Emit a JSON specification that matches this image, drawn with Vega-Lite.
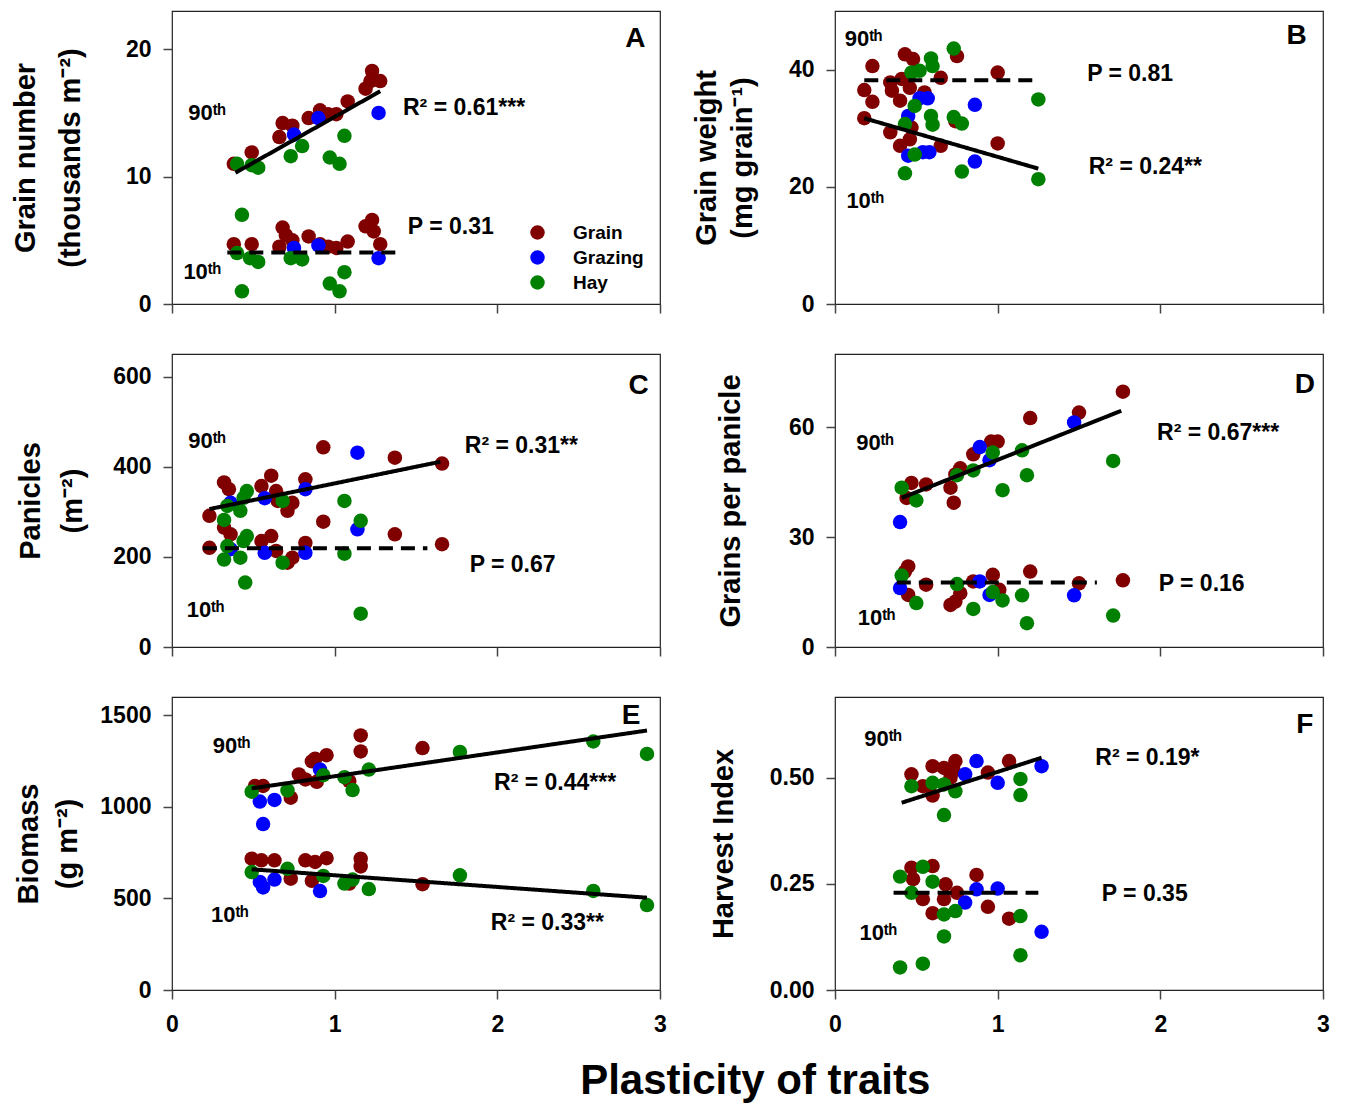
{
  "$schema": "https://vega.github.io/schema/vega-lite/v6.json",
  "padding": {"left": 10, "top": 10, "right": 10, "bottom": 10},
  "config": {
    "font": "Liberation Sans",
    "view": {"stroke": "#222", "strokeWidth": 1.2},
    "axis": {"domain": false, "grid": false, "ticks": true, "tickSize": 9, "tickColor": "#444", "tickWidth": 1.5,
      "labelFont": "Liberation Sans", "labelFontSize": 23, "labelFontWeight": "bold", "labelColor": "black", "labelPadding": 12,
      "labelFlush": false, "labelOverlap": false,
      "titleFont": "Liberation Sans", "titleFontSize": 29, "titleFontWeight": "bold", "titleColor": "black"},
    "axisY": {"minExtent": 40, "maxExtent": 40},
    "axisX": {"labelPadding": 14, "format": "d"}
  },
  "title": {"text": "Plasticity of traits", "orient": "bottom", "anchor": "middle", "fontSize": 42, "fontWeight": "bold", "font": "Liberation Sans", "offset": 24, "dx": 85, "color": "black"},
  "datasets": {
    "pts": [
      {"p":"A","s":"Grain","x":0.38,"y":11.0},{"p":"A","s":"Grain","x":0.49,"y":11.9},{"p":"A","s":"Grain","x":0.66,"y":13.1},{"p":"A","s":"Grain","x":0.68,"y":14.2},{"p":"A","s":"Grain","x":0.74,"y":14.0},{"p":"A","s":"Grain","x":0.84,"y":14.6},{"p":"A","s":"Grain","x":0.91,"y":15.2},{"p":"A","s":"Grain","x":0.96,"y":14.9},{"p":"A","s":"Grain","x":1.01,"y":14.9},{"p":"A","s":"Grain","x":1.08,"y":15.9},{"p":"A","s":"Grain","x":1.19,"y":16.9},{"p":"A","s":"Grain","x":1.23,"y":18.3},{"p":"A","s":"Grain","x":1.28,"y":17.5},{"p":"A","s":"Grain","x":1.22,"y":17.5},
      {"p":"A","s":"Grain","x":0.38,"y":4.7},{"p":"A","s":"Grain","x":0.49,"y":4.7},{"p":"A","s":"Grain","x":0.68,"y":6.0},{"p":"A","s":"Grain","x":0.66,"y":4.5},{"p":"A","s":"Grain","x":0.70,"y":5.4},{"p":"A","s":"Grain","x":0.74,"y":5.0},{"p":"A","s":"Grain","x":0.84,"y":5.3},{"p":"A","s":"Grain","x":0.91,"y":4.7},{"p":"A","s":"Grain","x":0.96,"y":4.5},{"p":"A","s":"Grain","x":1.01,"y":4.4},{"p":"A","s":"Grain","x":1.08,"y":4.9},{"p":"A","s":"Grain","x":1.19,"y":6.1},{"p":"A","s":"Grain","x":1.23,"y":6.6},{"p":"A","s":"Grain","x":1.24,"y":5.7},{"p":"A","s":"Grain","x":1.28,"y":4.7},
      {"p":"A","s":"Grazing","x":0.75,"y":13.3},{"p":"A","s":"Grazing","x":0.90,"y":14.6},{"p":"A","s":"Grazing","x":1.27,"y":15.0},{"p":"A","s":"Grazing","x":0.75,"y":4.4},{"p":"A","s":"Grazing","x":0.90,"y":4.6},{"p":"A","s":"Grazing","x":1.27,"y":3.6},
      {"p":"A","s":"Hay","x":0.40,"y":11.0},{"p":"A","s":"Hay","x":0.49,"y":10.9},{"p":"A","s":"Hay","x":0.53,"y":10.7},{"p":"A","s":"Hay","x":0.73,"y":11.6},{"p":"A","s":"Hay","x":0.80,"y":12.4},{"p":"A","s":"Hay","x":0.97,"y":11.5},{"p":"A","s":"Hay","x":1.03,"y":11.0},{"p":"A","s":"Hay","x":1.06,"y":13.2},{"p":"A","s":"Hay","x":0.43,"y":7.0},{"p":"A","s":"Hay","x":0.40,"y":4.0},{"p":"A","s":"Hay","x":0.48,"y":3.6},{"p":"A","s":"Hay","x":0.53,"y":3.3},{"p":"A","s":"Hay","x":0.73,"y":3.6},{"p":"A","s":"Hay","x":0.80,"y":3.5},{"p":"A","s":"Hay","x":0.43,"y":1.0},{"p":"A","s":"Hay","x":0.97,"y":1.6},{"p":"A","s":"Hay","x":1.03,"y":1.0},{"p":"A","s":"Hay","x":1.06,"y":2.5},

      {"p":"B","s":"Grain","x":0.23,"y":40.6},{"p":"B","s":"Grain","x":0.43,"y":42.6},{"p":"B","s":"Grain","x":0.48,"y":41.8},{"p":"B","s":"Grain","x":0.75,"y":42.3},{"p":"B","s":"Grain","x":1.00,"y":39.5},{"p":"B","s":"Grain","x":0.65,"y":38.6},{"p":"B","s":"Grain","x":0.34,"y":37.8},{"p":"B","s":"Grain","x":0.41,"y":38.4},{"p":"B","s":"Grain","x":0.18,"y":36.5},{"p":"B","s":"Grain","x":0.23,"y":34.5},{"p":"B","s":"Grain","x":0.35,"y":36.4},{"p":"B","s":"Grain","x":0.40,"y":34.7},{"p":"B","s":"Grain","x":0.46,"y":36.9},{"p":"B","s":"Grain","x":0.55,"y":36.1},{"p":"B","s":"Grain","x":0.18,"y":31.7},{"p":"B","s":"Grain","x":0.34,"y":29.3},{"p":"B","s":"Grain","x":0.40,"y":27.0},{"p":"B","s":"Grain","x":0.46,"y":28.1},{"p":"B","s":"Grain","x":0.65,"y":27.0},{"p":"B","s":"Grain","x":1.00,"y":27.4},{"p":"B","s":"Grain","x":0.74,"y":31.2},{"p":"B","s":"Grain","x":0.47,"y":30.1},
      {"p":"B","s":"Grazing","x":0.57,"y":35.1},{"p":"B","s":"Grazing","x":0.52,"y":35.1},{"p":"B","s":"Grazing","x":0.86,"y":34.0},{"p":"B","s":"Grazing","x":0.45,"y":32.1},{"p":"B","s":"Grazing","x":0.54,"y":25.9},{"p":"B","s":"Grazing","x":0.58,"y":25.9},{"p":"B","s":"Grazing","x":0.45,"y":25.3},{"p":"B","s":"Grazing","x":0.86,"y":24.3},
      {"p":"B","s":"Hay","x":0.73,"y":43.6},{"p":"B","s":"Hay","x":0.59,"y":41.9},{"p":"B","s":"Hay","x":0.60,"y":40.6},{"p":"B","s":"Hay","x":0.47,"y":39.5},{"p":"B","s":"Hay","x":0.52,"y":39.8},{"p":"B","s":"Hay","x":1.25,"y":34.9},{"p":"B","s":"Hay","x":0.49,"y":33.8},{"p":"B","s":"Hay","x":0.59,"y":32.1},{"p":"B","s":"Hay","x":0.73,"y":31.9},{"p":"B","s":"Hay","x":0.78,"y":30.8},{"p":"B","s":"Hay","x":0.43,"y":30.7},{"p":"B","s":"Hay","x":0.60,"y":30.6},{"p":"B","s":"Hay","x":0.49,"y":25.5},{"p":"B","s":"Hay","x":0.43,"y":22.3},{"p":"B","s":"Hay","x":0.78,"y":22.6},{"p":"B","s":"Hay","x":1.25,"y":21.3},

      {"p":"C","s":"Grain","x":0.93,"y":443},{"p":"C","s":"Grain","x":1.37,"y":420},{"p":"C","s":"Grain","x":1.66,"y":407},{"p":"C","s":"Grain","x":0.23,"y":291},{"p":"C","s":"Grain","x":0.32,"y":365},{"p":"C","s":"Grain","x":0.35,"y":350},{"p":"C","s":"Grain","x":0.55,"y":357},{"p":"C","s":"Grain","x":0.61,"y":380},{"p":"C","s":"Grain","x":0.64,"y":346},{"p":"C","s":"Grain","x":0.82,"y":372},{"p":"C","s":"Grain","x":0.74,"y":320},{"p":"C","s":"Grain","x":0.71,"y":302},{"p":"C","s":"Grain","x":0.93,"y":278},{"p":"C","s":"Grain","x":0.65,"y":324},{"p":"C","s":"Grain","x":0.32,"y":265},{"p":"C","s":"Grain","x":0.36,"y":250},{"p":"C","s":"Grain","x":0.23,"y":220},{"p":"C","s":"Grain","x":0.55,"y":235},{"p":"C","s":"Grain","x":0.61,"y":246},{"p":"C","s":"Grain","x":0.82,"y":231},{"p":"C","s":"Grain","x":0.74,"y":198},{"p":"C","s":"Grain","x":0.71,"y":187},{"p":"C","s":"Grain","x":1.37,"y":250},{"p":"C","s":"Grain","x":1.66,"y":228},{"p":"C","s":"Grain","x":0.64,"y":213},
      {"p":"C","s":"Grazing","x":1.14,"y":431},{"p":"C","s":"Grazing","x":0.82,"y":350},{"p":"C","s":"Grazing","x":0.57,"y":330},{"p":"C","s":"Grazing","x":0.36,"y":320},{"p":"C","s":"Grazing","x":1.14,"y":261},{"p":"C","s":"Grazing","x":0.57,"y":209},{"p":"C","s":"Grazing","x":0.82,"y":209},{"p":"C","s":"Grazing","x":0.36,"y":217},
      {"p":"C","s":"Hay","x":0.46,"y":346},{"p":"C","s":"Hay","x":0.44,"y":331},{"p":"C","s":"Hay","x":0.34,"y":313},{"p":"C","s":"Hay","x":0.42,"y":302},{"p":"C","s":"Hay","x":0.32,"y":282},{"p":"C","s":"Hay","x":0.68,"y":324},{"p":"C","s":"Hay","x":1.06,"y":324},{"p":"C","s":"Hay","x":1.16,"y":280},{"p":"C","s":"Hay","x":0.46,"y":246},{"p":"C","s":"Hay","x":0.44,"y":235},{"p":"C","s":"Hay","x":0.34,"y":224},{"p":"C","s":"Hay","x":0.42,"y":198},{"p":"C","s":"Hay","x":0.32,"y":194},{"p":"C","s":"Hay","x":0.68,"y":187},{"p":"C","s":"Hay","x":1.06,"y":207},{"p":"C","s":"Hay","x":0.45,"y":143},{"p":"C","s":"Hay","x":1.16,"y":74},

      {"p":"D","s":"Grain","x":1.77,"y":69.7},{"p":"D","s":"Grain","x":1.50,"y":64.0},{"p":"D","s":"Grain","x":1.20,"y":62.5},{"p":"D","s":"Grain","x":1.00,"y":56.1},{"p":"D","s":"Grain","x":0.96,"y":56.1},{"p":"D","s":"Grain","x":0.85,"y":52.6},{"p":"D","s":"Grain","x":0.77,"y":48.8},{"p":"D","s":"Grain","x":0.74,"y":47.1},{"p":"D","s":"Grain","x":0.71,"y":43.5},{"p":"D","s":"Grain","x":0.73,"y":39.4},{"p":"D","s":"Grain","x":0.56,"y":44.4},{"p":"D","s":"Grain","x":0.47,"y":44.8},{"p":"D","s":"Grain","x":0.44,"y":40.7},{"p":"D","s":"Grain","x":0.45,"y":22.0},{"p":"D","s":"Grain","x":0.43,"y":20.6},{"p":"D","s":"Grain","x":1.20,"y":20.6},{"p":"D","s":"Grain","x":1.77,"y":18.2},{"p":"D","s":"Grain","x":0.97,"y":19.7},{"p":"D","s":"Grain","x":0.85,"y":17.9},{"p":"D","s":"Grain","x":0.56,"y":17.0},{"p":"D","s":"Grain","x":0.45,"y":14.2},{"p":"D","s":"Grain","x":0.77,"y":14.7},{"p":"D","s":"Grain","x":0.74,"y":12.4},{"p":"D","s":"Grain","x":0.71,"y":11.5},{"p":"D","s":"Grain","x":1.50,"y":17.4},{"p":"D","s":"Grain","x":1.01,"y":15.6},
      {"p":"D","s":"Grazing","x":1.47,"y":61.3},{"p":"D","s":"Grazing","x":0.89,"y":54.6},{"p":"D","s":"Grazing","x":0.95,"y":51.0},{"p":"D","s":"Grazing","x":0.40,"y":34.1},{"p":"D","s":"Grazing","x":0.40,"y":16.1},{"p":"D","s":"Grazing","x":0.89,"y":17.9},{"p":"D","s":"Grazing","x":0.95,"y":14.2},{"p":"D","s":"Grazing","x":1.47,"y":14.1},
      {"p":"D","s":"Hay","x":1.15,"y":53.7},{"p":"D","s":"Hay","x":0.97,"y":53.1},{"p":"D","s":"Hay","x":0.85,"y":48.2},{"p":"D","s":"Hay","x":0.75,"y":46.9},{"p":"D","s":"Hay","x":0.41,"y":43.5},{"p":"D","s":"Hay","x":0.50,"y":40.0},{"p":"D","s":"Hay","x":1.03,"y":42.8},{"p":"D","s":"Hay","x":1.18,"y":46.9},{"p":"D","s":"Hay","x":1.71,"y":50.8},{"p":"D","s":"Hay","x":0.41,"y":19.5},{"p":"D","s":"Hay","x":0.75,"y":17.2},{"p":"D","s":"Hay","x":0.97,"y":15.0},{"p":"D","s":"Hay","x":1.03,"y":12.7},{"p":"D","s":"Hay","x":1.15,"y":14.1},{"p":"D","s":"Hay","x":0.50,"y":12.0},{"p":"D","s":"Hay","x":0.85,"y":10.4},{"p":"D","s":"Hay","x":1.18,"y":6.5},{"p":"D","s":"Hay","x":1.71,"y":8.6},

      {"p":"E","s":"Grain","x":1.16,"y":1390},{"p":"E","s":"Grain","x":1.16,"y":1303},{"p":"E","s":"Grain","x":1.54,"y":1321},{"p":"E","s":"Grain","x":0.95,"y":1282},{"p":"E","s":"Grain","x":0.88,"y":1263},{"p":"E","s":"Grain","x":0.86,"y":1249},{"p":"E","s":"Grain","x":0.78,"y":1177},{"p":"E","s":"Grain","x":0.82,"y":1150},{"p":"E","s":"Grain","x":0.89,"y":1137},{"p":"E","s":"Grain","x":1.09,"y":1141},{"p":"E","s":"Grain","x":0.51,"y":1114},{"p":"E","s":"Grain","x":0.56,"y":1114},{"p":"E","s":"Grain","x":0.73,"y":1050},{"p":"E","s":"Grain","x":0.49,"y":717},{"p":"E","s":"Grain","x":0.55,"y":708},{"p":"E","s":"Grain","x":0.63,"y":708},{"p":"E","s":"Grain","x":0.82,"y":708},{"p":"E","s":"Grain","x":0.88,"y":699},{"p":"E","s":"Grain","x":0.95,"y":720},{"p":"E","s":"Grain","x":1.16,"y":717},{"p":"E","s":"Grain","x":1.16,"y":675},{"p":"E","s":"Grain","x":0.73,"y":608},{"p":"E","s":"Grain","x":0.86,"y":596},{"p":"E","s":"Grain","x":1.09,"y":581},{"p":"E","s":"Grain","x":1.54,"y":578},
      {"p":"E","s":"Grazing","x":0.91,"y":1204},{"p":"E","s":"Grazing","x":0.54,"y":1029},{"p":"E","s":"Grazing","x":0.63,"y":1038},{"p":"E","s":"Grazing","x":0.56,"y":906},{"p":"E","s":"Grazing","x":0.54,"y":590},{"p":"E","s":"Grazing","x":0.56,"y":560},{"p":"E","s":"Grazing","x":0.63,"y":603},{"p":"E","s":"Grazing","x":0.91,"y":540},
      {"p":"E","s":"Hay","x":0.49,"y":1083},{"p":"E","s":"Hay","x":0.71,"y":1090},{"p":"E","s":"Hay","x":0.93,"y":1173},{"p":"E","s":"Hay","x":1.06,"y":1162},{"p":"E","s":"Hay","x":1.11,"y":1092},{"p":"E","s":"Hay","x":1.21,"y":1204},{"p":"E","s":"Hay","x":1.77,"y":1300},{"p":"E","s":"Hay","x":2.59,"y":1357},{"p":"E","s":"Hay","x":2.92,"y":1289},{"p":"E","s":"Hay","x":0.49,"y":644},{"p":"E","s":"Hay","x":0.71,"y":662},{"p":"E","s":"Hay","x":0.93,"y":623},{"p":"E","s":"Hay","x":1.06,"y":581},{"p":"E","s":"Hay","x":1.11,"y":603},{"p":"E","s":"Hay","x":1.21,"y":551},{"p":"E","s":"Hay","x":1.77,"y":626},{"p":"E","s":"Hay","x":2.59,"y":541},{"p":"E","s":"Hay","x":2.92,"y":464},

      {"p":"F","s":"Grain","x":0.47,"y":0.508},{"p":"F","s":"Grain","x":0.60,"y":0.527},{"p":"F","s":"Grain","x":0.67,"y":0.523},{"p":"F","s":"Grain","x":0.74,"y":0.539},{"p":"F","s":"Grain","x":0.73,"y":0.516},{"p":"F","s":"Grain","x":0.94,"y":0.512},{"p":"F","s":"Grain","x":1.07,"y":0.539},{"p":"F","s":"Grain","x":0.54,"y":0.480},{"p":"F","s":"Grain","x":0.60,"y":0.458},{"p":"F","s":"Grain","x":0.71,"y":0.500},{"p":"F","s":"Grain","x":0.47,"y":0.288},{"p":"F","s":"Grain","x":0.60,"y":0.292},{"p":"F","s":"Grain","x":0.48,"y":0.261},{"p":"F","s":"Grain","x":0.68,"y":0.249},{"p":"F","s":"Grain","x":0.75,"y":0.229},{"p":"F","s":"Grain","x":0.54,"y":0.214},{"p":"F","s":"Grain","x":0.67,"y":0.214},{"p":"F","s":"Grain","x":0.87,"y":0.271},{"p":"F","s":"Grain","x":0.94,"y":0.196},{"p":"F","s":"Grain","x":0.60,"y":0.181},{"p":"F","s":"Grain","x":1.07,"y":0.168},
      {"p":"F","s":"Grazing","x":0.87,"y":0.539},{"p":"F","s":"Grazing","x":0.80,"y":0.508},{"p":"F","s":"Grazing","x":1.00,"y":0.488},{"p":"F","s":"Grazing","x":1.27,"y":0.527},{"p":"F","s":"Grazing","x":0.87,"y":0.237},{"p":"F","s":"Grazing","x":1.00,"y":0.239},{"p":"F","s":"Grazing","x":0.80,"y":0.206},{"p":"F","s":"Grazing","x":1.27,"y":0.137},
      {"p":"F","s":"Hay","x":0.47,"y":0.480},{"p":"F","s":"Hay","x":0.60,"y":0.488},{"p":"F","s":"Hay","x":0.67,"y":0.484},{"p":"F","s":"Hay","x":0.74,"y":0.468},{"p":"F","s":"Hay","x":0.67,"y":0.412},{"p":"F","s":"Hay","x":1.14,"y":0.497},{"p":"F","s":"Hay","x":1.14,"y":0.459},{"p":"F","s":"Hay","x":0.40,"y":0.267},{"p":"F","s":"Hay","x":0.54,"y":0.290},{"p":"F","s":"Hay","x":0.60,"y":0.255},{"p":"F","s":"Hay","x":0.47,"y":0.229},{"p":"F","s":"Hay","x":0.67,"y":0.178},{"p":"F","s":"Hay","x":0.74,"y":0.186},{"p":"F","s":"Hay","x":1.14,"y":0.174},{"p":"F","s":"Hay","x":0.67,"y":0.126},{"p":"F","s":"Hay","x":1.14,"y":0.082},{"p":"F","s":"Hay","x":0.40,"y":0.053},{"p":"F","s":"Hay","x":0.54,"y":0.062}
    ],
    "lns": [
      {"p":"A","g":"90","d":"solid","x":0.39,"y":10.3},{"p":"A","g":"90","d":"solid","x":1.28,"y":16.7},
      {"p":"A","g":"10","d":"dashed","x":0.34,"y":4.05},{"p":"A","g":"10","d":"dashed","x":1.41,"y":4.05},
      {"p":"B","g":"90","d":"dashed","x":0.18,"y":38.2},{"p":"B","g":"90","d":"dashed","x":1.26,"y":38.2},
      {"p":"B","g":"10","d":"solid","x":0.18,"y":31.7},{"p":"B","g":"10","d":"solid","x":1.25,"y":23.1},
      {"p":"C","g":"90","d":"solid","x":0.23,"y":306},{"p":"C","g":"90","d":"solid","x":1.65,"y":411},
      {"p":"C","g":"10","d":"dashed","x":0.19,"y":219},{"p":"C","g":"10","d":"dashed","x":1.57,"y":219},
      {"p":"D","g":"90","d":"solid","x":0.41,"y":40.7},{"p":"D","g":"90","d":"solid","x":1.76,"y":64.5},
      {"p":"D","g":"10","d":"dashed","x":0.38,"y":17.6},{"p":"D","g":"10","d":"dashed","x":1.61,"y":17.6},
      {"p":"E","g":"90","d":"solid","x":0.49,"y":1101},{"p":"E","g":"90","d":"solid","x":2.92,"y":1417},
      {"p":"E","g":"10","d":"solid","x":0.49,"y":659},{"p":"E","g":"10","d":"solid","x":2.92,"y":504},
      {"p":"F","g":"90","d":"solid","x":0.41,"y":0.441},{"p":"F","g":"90","d":"solid","x":1.27,"y":0.547},
      {"p":"F","g":"10","d":"dashed","x":0.36,"y":0.229},{"p":"F","g":"10","d":"dashed","x":1.25,"y":0.229}
    ],
    "txt": [
      {"p":"A","k":"pct","t":"90ᵗʰ","x":0.10,"y":15.0},{"p":"A","k":"pct","t":"10ᵗʰ","x":0.07,"y":2.5},{"p":"A","k":"stat","t":"R² = 0.61***","x":1.42,"y":15.4},{"p":"A","k":"stat","t":"P = 0.31","x":1.45,"y":6.06},{"p":"A","k":"let","t":"A","x":2.91,"y":20.8},
      {"p":"B","k":"pct","t":"90ᵗʰ","x":0.06,"y":45.2},{"p":"B","k":"pct","t":"10ᵗʰ","x":0.07,"y":17.6},{"p":"B","k":"stat","t":"P = 0.81","x":1.55,"y":39.2},{"p":"B","k":"stat","t":"R² = 0.24**","x":1.56,"y":23.3},{"p":"B","k":"let","t":"B","x":2.90,"y":45.7},
      {"p":"C","k":"pct","t":"90ᵗʰ","x":0.10,"y":456},{"p":"C","k":"pct","t":"10ᵗʰ","x":0.09,"y":83},{"p":"C","k":"stat","t":"R² = 0.31**","x":1.80,"y":446},{"p":"C","k":"stat","t":"P = 0.67","x":1.83,"y":183},{"p":"C","k":"let","t":"C","x":2.93,"y":580},
      {"p":"D","k":"pct","t":"90ᵗʰ","x":0.13,"y":55.8},{"p":"D","k":"pct","t":"10ᵗʰ","x":0.14,"y":7.9},{"p":"D","k":"stat","t":"R² = 0.67***","x":1.98,"y":58.5},{"p":"D","k":"stat","t":"P = 0.16","x":1.99,"y":17.2},{"p":"D","k":"let","t":"D","x":2.95,"y":71.6},
      {"p":"E","k":"pct","t":"90ᵗʰ","x":0.25,"y":1330},{"p":"E","k":"pct","t":"10ᵗʰ","x":0.24,"y":410},{"p":"E","k":"stat","t":"R² = 0.44***","x":1.98,"y":1132},{"p":"E","k":"stat","t":"R² = 0.33**","x":1.96,"y":365},{"p":"E","k":"let","t":"E","x":2.88,"y":1498},
      {"p":"F","k":"pct","t":"90ᵗʰ","x":0.18,"y":0.59},{"p":"F","k":"pct","t":"10ᵗʰ","x":0.15,"y":0.135},{"p":"F","k":"stat","t":"R² = 0.19*","x":1.60,"y":0.547},{"p":"F","k":"stat","t":"P = 0.35","x":1.64,"y":0.225},{"p":"F","k":"let","t":"F","x":2.94,"y":0.625}
    ]
  },
  "columns": 2,
  "spacing": {"row": 50, "column": 175},
  "bounds": "flush",
  "resolve": {"scale": {"x": "independent", "y": "independent", "color": "independent", "strokeDash": "independent"}, "legend": {"color": "independent"}},
  "concat": [
    {
      "width": 488, "height": 293,
      "layer": [
        {"data": {"name": "pts"}, "transform": [{"filter": "datum.p==='A'"}],
         "mark": {"type": "circle", "size": 210, "opacity": 1},
         "encoding": {
           "x": {"field": "x", "type": "quantitative", "scale": {"domain": [0, 3], "nice": false}, "axis": {"values": [0, 1, 2, 3], "labels": false, "title": null}},
           "y": {"field": "y", "type": "quantitative", "scale": {"domain": [0, 23], "nice": false}, "axis": {"values": [0, 10, 20], "title": ["Grain number", "(thousands m⁻²)"], "titleLineHeight": 45, "titlePadding": 47}},
           "color": {"field": "s", "type": "nominal", "scale": {"domain": ["Grain", "Grazing", "Hay"], "range": ["#800000", "#0000ff", "#008000"]},
             "legend": {"orient": "none", "legendX": 356, "legendY": 212, "title": null, "padding": 0, "labelFont": "Liberation Sans", "labelFontSize": 19, "labelFontWeight": "bold", "labelColor": "black", "symbolSize": 210, "symbolType": "circle", "symbolStrokeWidth": 0, "rowPadding": 5, "labelOffset": 26}}
         }},
        {"data": {"name": "lns"}, "transform": [{"filter": "datum.p==='A'"}],
         "mark": {"type": "line", "color": "black", "strokeWidth": 4},
         "encoding": {"x": {"field": "x", "type": "quantitative"}, "y": {"field": "y", "type": "quantitative"}, "detail": {"field": "g"},
           "strokeDash": {"field": "d", "type": "nominal", "scale": {"domain": ["solid", "dashed"], "range": [[1, 0], [14, 8]]}, "legend": null}}},
        {"data": {"name": "txt"}, "transform": [{"filter": "datum.p==='A' && datum.k==='pct'"}],
         "mark": {"type": "text", "align": "left", "baseline": "middle", "fontSize": 22, "fontWeight": "bold", "color": "black"},
         "encoding": {"x": {"field": "x", "type": "quantitative"}, "y": {"field": "y", "type": "quantitative"}, "text": {"field": "t"}}},
        {"data": {"name": "txt"}, "transform": [{"filter": "datum.p==='A' && datum.k==='stat'"}],
         "mark": {"type": "text", "align": "left", "baseline": "middle", "fontSize": 23, "fontWeight": "bold", "color": "black"},
         "encoding": {"x": {"field": "x", "type": "quantitative"}, "y": {"field": "y", "type": "quantitative"}, "text": {"field": "t"}}},
        {"data": {"name": "txt"}, "transform": [{"filter": "datum.p==='A' && datum.k==='let'"}],
         "mark": {"type": "text", "align": "right", "baseline": "middle", "fontSize": 28, "fontWeight": "bold", "color": "black"},
         "encoding": {"x": {"field": "x", "type": "quantitative"}, "y": {"field": "y", "type": "quantitative"}, "text": {"field": "t"}}}
      ]
    },
    {
      "width": 488, "height": 293,
      "layer": [
        {"data": {"name": "pts"}, "transform": [{"filter": "datum.p==='B'"}],
         "mark": {"type": "circle", "size": 210, "opacity": 1},
         "encoding": {
           "x": {"field": "x", "type": "quantitative", "scale": {"domain": [0, 3], "nice": false}, "axis": {"values": [0, 1, 2, 3], "labels": false, "title": null}},
           "y": {"field": "y", "type": "quantitative", "scale": {"domain": [0, 50], "nice": false}, "axis": {"values": [0, 20, 40], "title": ["Grain weight", "(mg grain⁻¹)"], "titleLineHeight": 36, "titlePadding": 38}},
           "color": {"field": "s", "type": "nominal", "scale": {"domain": ["Grain", "Grazing", "Hay"], "range": ["#800000", "#0000ff", "#008000"]}, "legend": null}
         }},
        {"data": {"name": "lns"}, "transform": [{"filter": "datum.p==='B'"}],
         "mark": {"type": "line", "color": "black", "strokeWidth": 4},
         "encoding": {"x": {"field": "x", "type": "quantitative"}, "y": {"field": "y", "type": "quantitative"}, "detail": {"field": "g"},
           "strokeDash": {"field": "d", "type": "nominal", "scale": {"domain": ["solid", "dashed"], "range": [[1, 0], [14, 8]]}, "legend": null}}},
        {"data": {"name": "txt"}, "transform": [{"filter": "datum.p==='B' && datum.k==='pct'"}],
         "mark": {"type": "text", "align": "left", "baseline": "middle", "fontSize": 22, "fontWeight": "bold", "color": "black"},
         "encoding": {"x": {"field": "x", "type": "quantitative"}, "y": {"field": "y", "type": "quantitative"}, "text": {"field": "t"}}},
        {"data": {"name": "txt"}, "transform": [{"filter": "datum.p==='B' && datum.k==='stat'"}],
         "mark": {"type": "text", "align": "left", "baseline": "middle", "fontSize": 23, "fontWeight": "bold", "color": "black"},
         "encoding": {"x": {"field": "x", "type": "quantitative"}, "y": {"field": "y", "type": "quantitative"}, "text": {"field": "t"}}},
        {"data": {"name": "txt"}, "transform": [{"filter": "datum.p==='B' && datum.k==='let'"}],
         "mark": {"type": "text", "align": "right", "baseline": "middle", "fontSize": 28, "fontWeight": "bold", "color": "black"},
         "encoding": {"x": {"field": "x", "type": "quantitative"}, "y": {"field": "y", "type": "quantitative"}, "text": {"field": "t"}}}
      ]
    },
    {
      "width": 488, "height": 293,
      "layer": [
        {"data": {"name": "pts"}, "transform": [{"filter": "datum.p==='C'"}],
         "mark": {"type": "circle", "size": 210, "opacity": 1},
         "encoding": {
           "x": {"field": "x", "type": "quantitative", "scale": {"domain": [0, 3], "nice": false}, "axis": {"values": [0, 1, 2, 3], "labels": false, "title": null}},
           "y": {"field": "y", "type": "quantitative", "scale": {"domain": [0, 650], "nice": false}, "axis": {"values": [0, 200, 400, 600], "title": ["Panicles", "(m⁻²)"], "titleLineHeight": 42, "titlePadding": 45}},
           "color": {"field": "s", "type": "nominal", "scale": {"domain": ["Grain", "Grazing", "Hay"], "range": ["#800000", "#0000ff", "#008000"]}, "legend": null}
         }},
        {"data": {"name": "lns"}, "transform": [{"filter": "datum.p==='C'"}],
         "mark": {"type": "line", "color": "black", "strokeWidth": 4},
         "encoding": {"x": {"field": "x", "type": "quantitative"}, "y": {"field": "y", "type": "quantitative"}, "detail": {"field": "g"},
           "strokeDash": {"field": "d", "type": "nominal", "scale": {"domain": ["solid", "dashed"], "range": [[1, 0], [14, 8]]}, "legend": null}}},
        {"data": {"name": "txt"}, "transform": [{"filter": "datum.p==='C' && datum.k==='pct'"}],
         "mark": {"type": "text", "align": "left", "baseline": "middle", "fontSize": 22, "fontWeight": "bold", "color": "black"},
         "encoding": {"x": {"field": "x", "type": "quantitative"}, "y": {"field": "y", "type": "quantitative"}, "text": {"field": "t"}}},
        {"data": {"name": "txt"}, "transform": [{"filter": "datum.p==='C' && datum.k==='stat'"}],
         "mark": {"type": "text", "align": "left", "baseline": "middle", "fontSize": 23, "fontWeight": "bold", "color": "black"},
         "encoding": {"x": {"field": "x", "type": "quantitative"}, "y": {"field": "y", "type": "quantitative"}, "text": {"field": "t"}}},
        {"data": {"name": "txt"}, "transform": [{"filter": "datum.p==='C' && datum.k==='let'"}],
         "mark": {"type": "text", "align": "right", "baseline": "middle", "fontSize": 28, "fontWeight": "bold", "color": "black"},
         "encoding": {"x": {"field": "x", "type": "quantitative"}, "y": {"field": "y", "type": "quantitative"}, "text": {"field": "t"}}}
      ]
    },
    {
      "width": 488, "height": 293,
      "layer": [
        {"data": {"name": "pts"}, "transform": [{"filter": "datum.p==='D'"}],
         "mark": {"type": "circle", "size": 210, "opacity": 1},
         "encoding": {
           "x": {"field": "x", "type": "quantitative", "scale": {"domain": [0, 3], "nice": false}, "axis": {"values": [0, 1, 2, 3], "labels": false, "title": null}},
           "y": {"field": "y", "type": "quantitative", "scale": {"domain": [0, 80], "nice": false}, "axis": {"values": [0, 30, 60], "title": "Grains per panicle", "titlePadding": 50}},
           "color": {"field": "s", "type": "nominal", "scale": {"domain": ["Grain", "Grazing", "Hay"], "range": ["#800000", "#0000ff", "#008000"]}, "legend": null}
         }},
        {"data": {"name": "lns"}, "transform": [{"filter": "datum.p==='D'"}],
         "mark": {"type": "line", "color": "black", "strokeWidth": 4},
         "encoding": {"x": {"field": "x", "type": "quantitative"}, "y": {"field": "y", "type": "quantitative"}, "detail": {"field": "g"},
           "strokeDash": {"field": "d", "type": "nominal", "scale": {"domain": ["solid", "dashed"], "range": [[1, 0], [14, 8]]}, "legend": null}}},
        {"data": {"name": "txt"}, "transform": [{"filter": "datum.p==='D' && datum.k==='pct'"}],
         "mark": {"type": "text", "align": "left", "baseline": "middle", "fontSize": 22, "fontWeight": "bold", "color": "black"},
         "encoding": {"x": {"field": "x", "type": "quantitative"}, "y": {"field": "y", "type": "quantitative"}, "text": {"field": "t"}}},
        {"data": {"name": "txt"}, "transform": [{"filter": "datum.p==='D' && datum.k==='stat'"}],
         "mark": {"type": "text", "align": "left", "baseline": "middle", "fontSize": 23, "fontWeight": "bold", "color": "black"},
         "encoding": {"x": {"field": "x", "type": "quantitative"}, "y": {"field": "y", "type": "quantitative"}, "text": {"field": "t"}}},
        {"data": {"name": "txt"}, "transform": [{"filter": "datum.p==='D' && datum.k==='let'"}],
         "mark": {"type": "text", "align": "right", "baseline": "middle", "fontSize": 28, "fontWeight": "bold", "color": "black"},
         "encoding": {"x": {"field": "x", "type": "quantitative"}, "y": {"field": "y", "type": "quantitative"}, "text": {"field": "t"}}}
      ]
    },
    {
      "width": 488, "height": 293,
      "layer": [
        {"data": {"name": "pts"}, "transform": [{"filter": "datum.p==='E'"}],
         "mark": {"type": "circle", "size": 210, "opacity": 1},
         "encoding": {
           "x": {"field": "x", "type": "quantitative", "scale": {"domain": [0, 3], "nice": false}, "axis": {"values": [0, 1, 2, 3], "title": null}},
           "y": {"field": "y", "type": "quantitative", "scale": {"domain": [0, 1600], "nice": false}, "axis": {"values": [0, 500, 1000, 1500], "format": "d", "title": ["Biomass", "(g m⁻²)"], "titleLineHeight": 39, "titlePadding": 50}},
           "color": {"field": "s", "type": "nominal", "scale": {"domain": ["Grain", "Grazing", "Hay"], "range": ["#800000", "#0000ff", "#008000"]}, "legend": null}
         }},
        {"data": {"name": "lns"}, "transform": [{"filter": "datum.p==='E'"}],
         "mark": {"type": "line", "color": "black", "strokeWidth": 4},
         "encoding": {"x": {"field": "x", "type": "quantitative"}, "y": {"field": "y", "type": "quantitative"}, "detail": {"field": "g"},
           "strokeDash": {"field": "d", "type": "nominal", "scale": {"domain": ["solid", "dashed"], "range": [[1, 0], [14, 8]]}, "legend": null}}},
        {"data": {"name": "txt"}, "transform": [{"filter": "datum.p==='E' && datum.k==='pct'"}],
         "mark": {"type": "text", "align": "left", "baseline": "middle", "fontSize": 22, "fontWeight": "bold", "color": "black"},
         "encoding": {"x": {"field": "x", "type": "quantitative"}, "y": {"field": "y", "type": "quantitative"}, "text": {"field": "t"}}},
        {"data": {"name": "txt"}, "transform": [{"filter": "datum.p==='E' && datum.k==='stat'"}],
         "mark": {"type": "text", "align": "left", "baseline": "middle", "fontSize": 23, "fontWeight": "bold", "color": "black"},
         "encoding": {"x": {"field": "x", "type": "quantitative"}, "y": {"field": "y", "type": "quantitative"}, "text": {"field": "t"}}},
        {"data": {"name": "txt"}, "transform": [{"filter": "datum.p==='E' && datum.k==='let'"}],
         "mark": {"type": "text", "align": "right", "baseline": "middle", "fontSize": 28, "fontWeight": "bold", "color": "black"},
         "encoding": {"x": {"field": "x", "type": "quantitative"}, "y": {"field": "y", "type": "quantitative"}, "text": {"field": "t"}}}
      ]
    },
    {
      "width": 488, "height": 293,
      "layer": [
        {"data": {"name": "pts"}, "transform": [{"filter": "datum.p==='F'"}],
         "mark": {"type": "circle", "size": 210, "opacity": 1},
         "encoding": {
           "x": {"field": "x", "type": "quantitative", "scale": {"domain": [0, 3], "nice": false}, "axis": {"values": [0, 1, 2, 3], "title": null}},
           "y": {"field": "y", "type": "quantitative", "scale": {"domain": [0, 0.69], "nice": false}, "axis": {"values": [0, 0.25, 0.5], "format": ".2f", "title": "Harvest Index", "titlePadding": 57}},
           "color": {"field": "s", "type": "nominal", "scale": {"domain": ["Grain", "Grazing", "Hay"], "range": ["#800000", "#0000ff", "#008000"]}, "legend": null}
         }},
        {"data": {"name": "lns"}, "transform": [{"filter": "datum.p==='F'"}],
         "mark": {"type": "line", "color": "black", "strokeWidth": 4},
         "encoding": {"x": {"field": "x", "type": "quantitative"}, "y": {"field": "y", "type": "quantitative"}, "detail": {"field": "g"},
           "strokeDash": {"field": "d", "type": "nominal", "scale": {"domain": ["solid", "dashed"], "range": [[1, 0], [14, 8]]}, "legend": null}}},
        {"data": {"name": "txt"}, "transform": [{"filter": "datum.p==='F' && datum.k==='pct'"}],
         "mark": {"type": "text", "align": "left", "baseline": "middle", "fontSize": 22, "fontWeight": "bold", "color": "black"},
         "encoding": {"x": {"field": "x", "type": "quantitative"}, "y": {"field": "y", "type": "quantitative"}, "text": {"field": "t"}}},
        {"data": {"name": "txt"}, "transform": [{"filter": "datum.p==='F' && datum.k==='stat'"}],
         "mark": {"type": "text", "align": "left", "baseline": "middle", "fontSize": 23, "fontWeight": "bold", "color": "black"},
         "encoding": {"x": {"field": "x", "type": "quantitative"}, "y": {"field": "y", "type": "quantitative"}, "text": {"field": "t"}}},
        {"data": {"name": "txt"}, "transform": [{"filter": "datum.p==='F' && datum.k==='let'"}],
         "mark": {"type": "text", "align": "right", "baseline": "middle", "fontSize": 28, "fontWeight": "bold", "color": "black"},
         "encoding": {"x": {"field": "x", "type": "quantitative"}, "y": {"field": "y", "type": "quantitative"}, "text": {"field": "t"}}}
      ]
    }
  ]
}
